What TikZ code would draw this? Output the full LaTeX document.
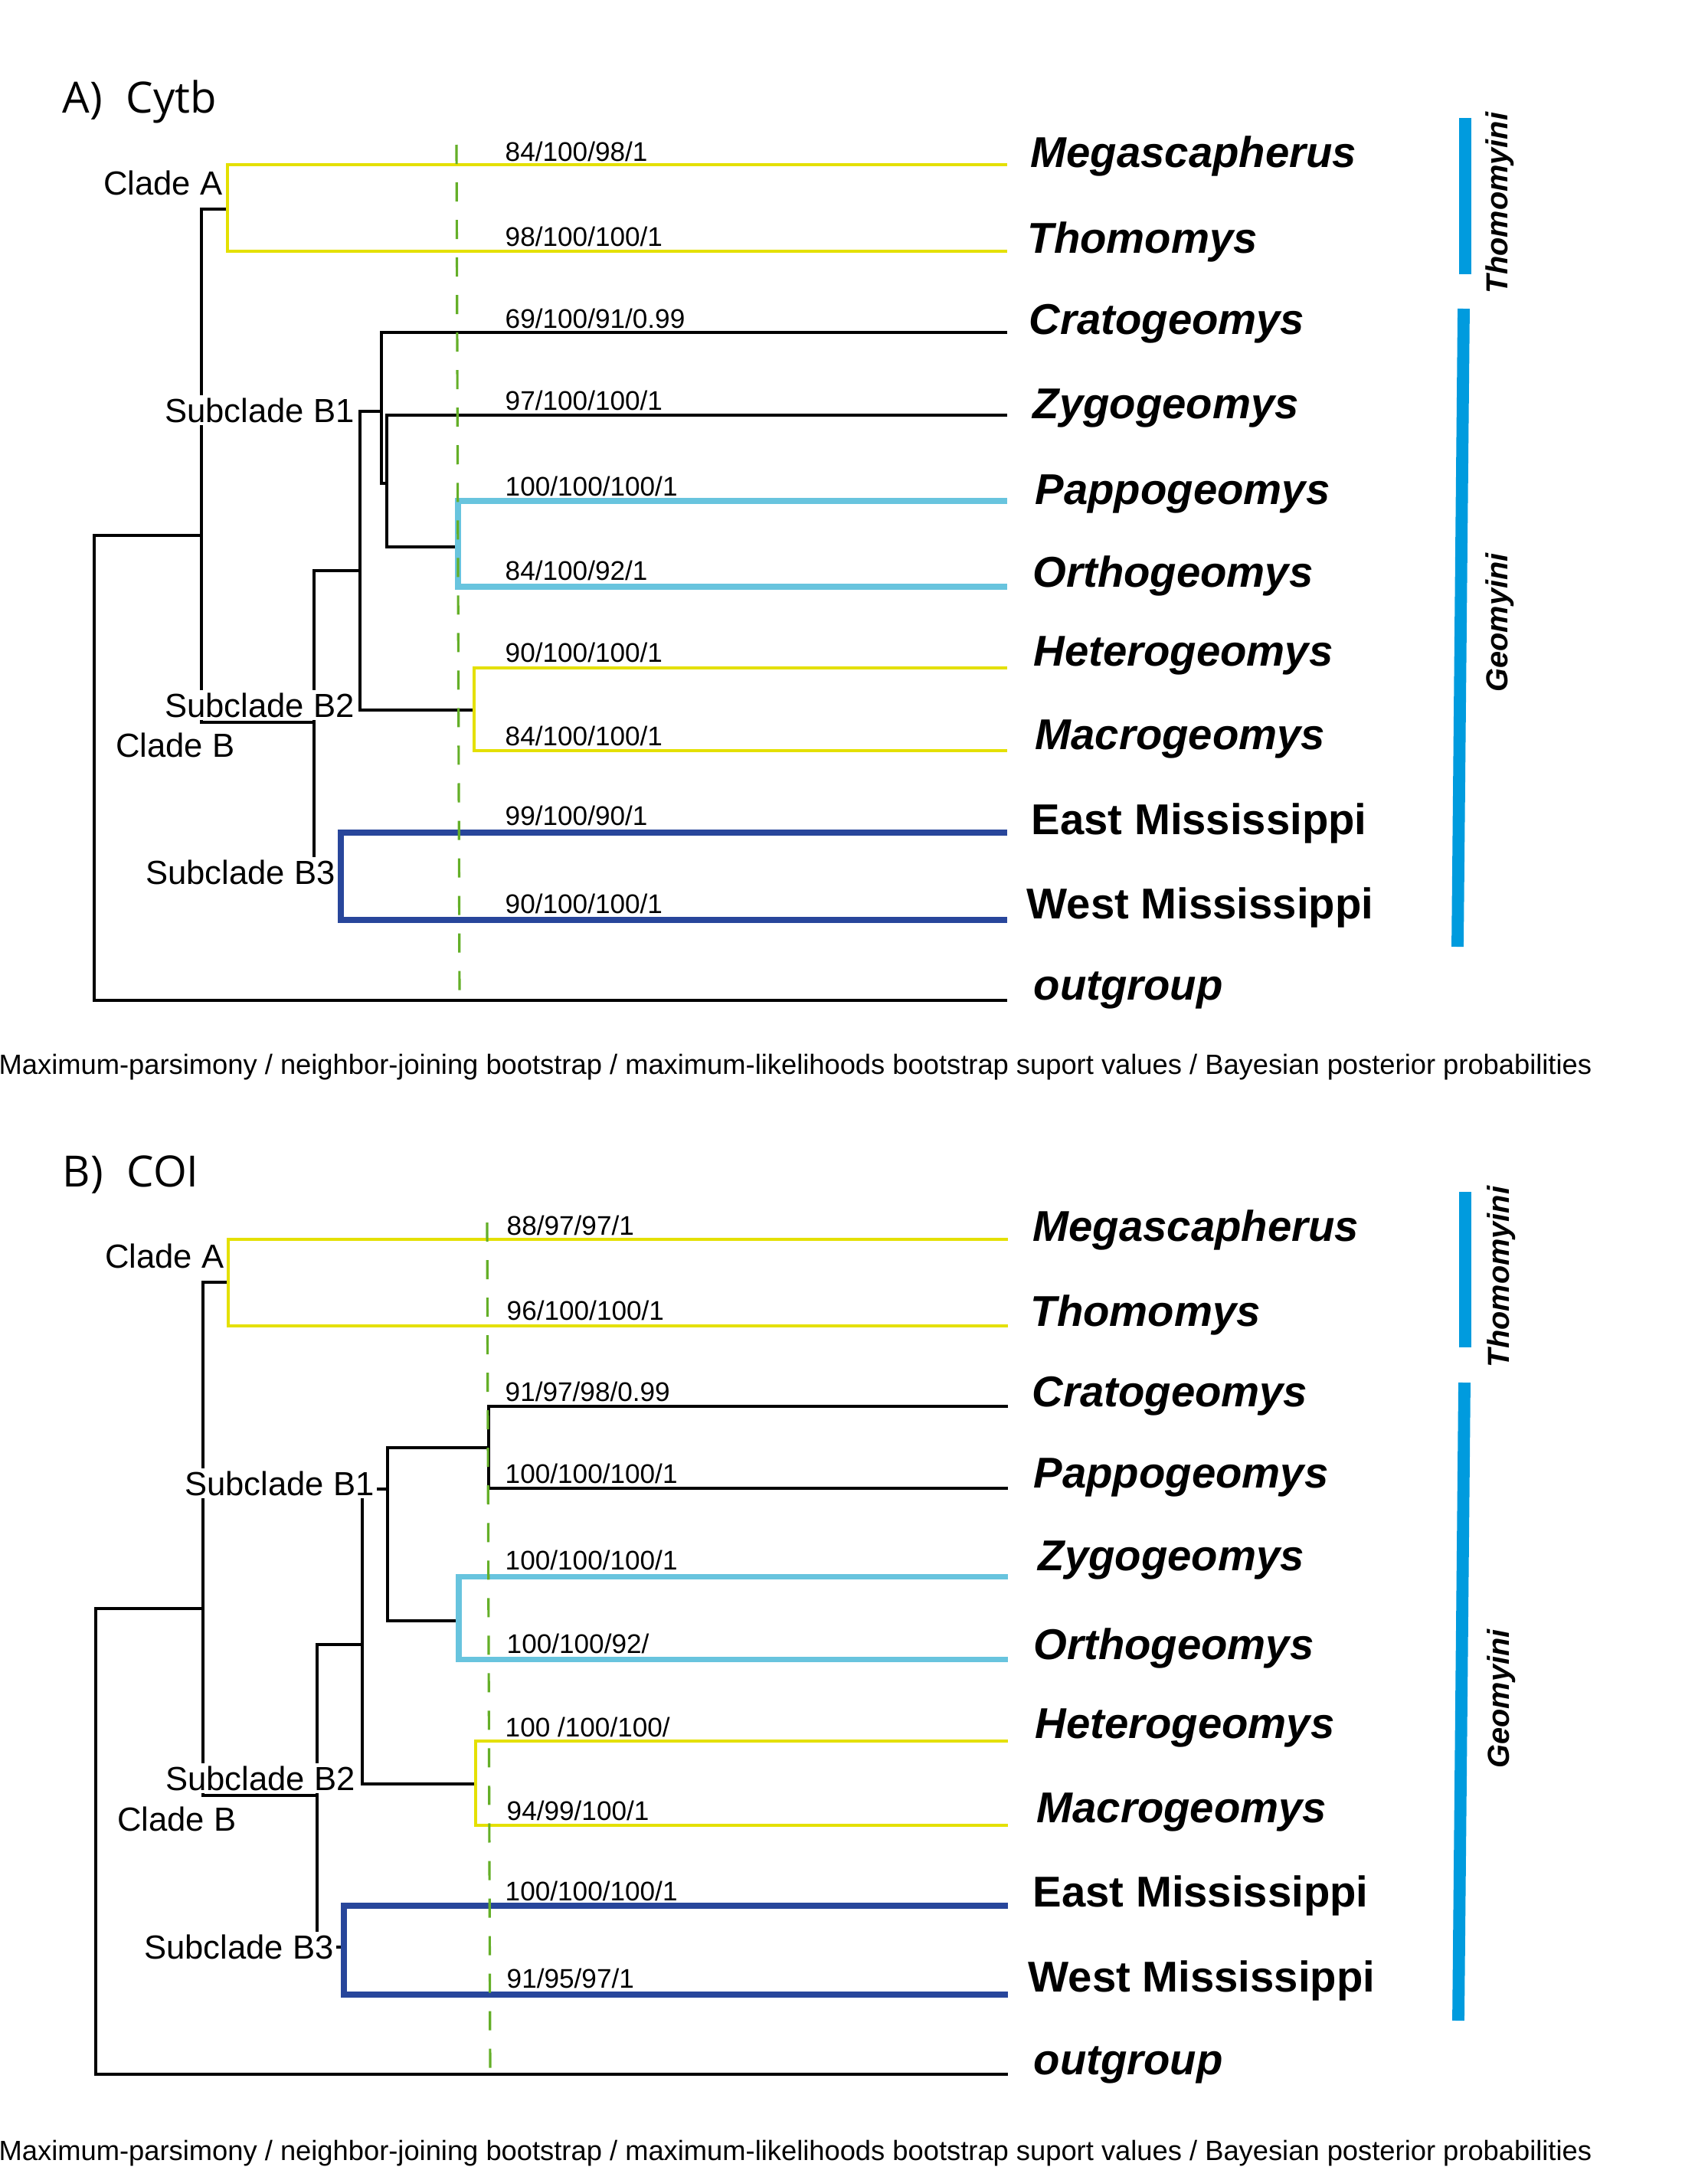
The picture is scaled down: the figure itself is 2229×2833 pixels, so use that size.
\documentclass[tikz,border=0pt]{standalone}
\usepackage{fontspec}
\setmainfont{Liberation Sans}
\newfontfamily\headfont{Open Sans}
\definecolor{cladeyellow}{RGB}{228,224,0}
\definecolor{cladecyan}{RGB}{104,196,222}
\definecolor{cladeblue}{RGB}{40,70,155}
\definecolor{tribeblue}{RGB}{0,155,222}
\definecolor{cutgreen}{RGB}{100,175,40}
\begin{document}
\begin{tikzpicture}[x=0.01cm,y=-0.01cm] % 1 единица = 1 пиксель, y вниз
\tikzstyle{mybranch} = [line width=1.1pt, draw=black] % black branch
\tikzstyle{myyellow} = [line width=1.1pt, draw=cladeyellow]
\tikzstyle{mycyan} = [line width=2pt, draw=cladecyan]
\tikzstyle{myblue} = [line width=2.4pt, draw=cladeblue]
\tikzstyle{mycut} = [line width=0.9pt, draw=cutgreen, dash pattern=on 0.25cm off 0.24cm] % пунктир
\tikzstyle{mybar} = [line width=4.5pt, draw=tribeblue] % tribe bar
\tikzstyle{mytaxon} = [anchor=base west, inner sep=0pt, font=\fontsize{16}{19}\selectfont\bfseries\itshape]
\tikzstyle{myplace} = [anchor=base west, inner sep=0pt, font=\fontsize{16}{19}\selectfont\bfseries]
\tikzstyle{mysupport} = [anchor=base west, inner sep=0pt, font=\fontsize{10}{12}\selectfont]
\tikzstyle{myclade} = [anchor=base west, fill=white, inner sep=1pt, font=\fontsize{12.4}{15}\selectfont]
\tikzstyle{mytribe} = [rotate=90, anchor=base, inner sep=0pt, font=\fontsize{11.3}{13}\selectfont\bfseries\itshape]
\tikzstyle{myhead} = [anchor=base west, inner sep=0pt, font=\headfont\fontsize{16}{19}\selectfont]
\tikzstyle{mynote} = [anchor=base west, inner sep=0pt, font=\fontsize{10.33}{12}\selectfont]
\useasboundingbox (0,0) rectangle (2229,2833);

% ===== A) Cytb =====
\node[myhead] (ahead) at (81,147) {A)\hspace{0.55em}Cytb};
\coordinate (aroot) at (123,699); % корень
\coordinate (aab) at (263,699);
\coordinate (aa) at (297,273);
\coordinate (ab) at (410,943);
\coordinate (ab12) at (470,745);
\coordinate (ab1) at (498,537);
\coordinate (azpo) at (505,631);
\coordinate (apo) at (598,714);
\coordinate (ahm) at (619,927);
\coordinate (ab3) at (445,1141);
\coordinate (amega) at (1315,215); % листья
\coordinate (athom) at (1315,328);
\coordinate (acrato) at (1315,434);
\coordinate (azygo) at (1315,542);
\coordinate (apappo) at (1315,654);
\coordinate (aortho) at (1315,766);
\coordinate (ahetero) at (1315,872);
\coordinate (amacro) at (1315,980);
\coordinate (aeast) at (1315,1087);
\coordinate (awest) at (1315,1201);
\coordinate (aout) at (1315,1306);
\draw[mybranch] (aab) -| (aroot) |- (aout);
\draw[mybranch] (aa) -| (aab) |- (ab);
\draw[mybranch] (ab12) -| (ab) |- (ab3);
\draw[mybranch] (ab1) -| (ab12) |- (ahm);
\draw[mybranch] (acrato) -| (ab1) |- (azpo);
\draw[mybranch] (azygo) -| (azpo) |- (apo);
\draw[myyellow] (amega) -| (aa) |- (athom);
\draw[mycyan] (apappo) -| (apo) |- (aortho);
\draw[myyellow] (ahetero) -| (ahm) |- (amacro);
\draw[myblue] (aeast) -| (ab3) |- (awest);
\coordinate (acuttop) at (596,189);
\coordinate (acutbot) at (600,1303);
\draw[mycut] (acuttop) -- (acutbot);
\node[mysupport] (asmega) at (659,210) {84/100/98/1};
\node[mysupport] (asthom) at (659,321) {98/100/100/1};
\node[mysupport] (ascrato) at (659,428) {69/100/91/0.99};
\node[mysupport] (aszygo) at (659,535) {97/100/100/1};
\node[mysupport] (aspappo) at (659,647) {100/100/100/1};
\node[mysupport] (asortho) at (659,757) {84/100/92/1};
\node[mysupport] (ashetero) at (659,864) {90/100/100/1};
\node[mysupport] (asmacro) at (659,973) {84/100/100/1};
\node[mysupport] (aseast) at (659,1077) {99/100/90/1};
\node[mysupport] (aswest) at (659,1192) {90/100/100/1};
\node[mytaxon] (atmega) at (1345,218) {Megascapherus};
\node[mytaxon] (atthom) at (1341,330) {Thomomys};
\node[mytaxon] (atcrato) at (1343,436) {Cratogeomys};
\node[mytaxon] (atzygo) at (1348,546) {Zygogeomys};
\node[mytaxon] (atpappo) at (1351,658) {Pappogeomys};
\node[mytaxon] (atortho) at (1348,766) {Orthogeomys};
\node[mytaxon] (athetero) at (1349,869) {Heterogeomys};
\node[mytaxon] (atmacro) at (1351,978) {Macrogeomys};
\node[myplace] (ateast) at (1346,1089) {East Mississippi};
\node[myplace] (atwest) at (1340,1199) {West Mississippi};
\node[mytaxon] (atout) at (1349,1305) {outgroup};
\node[myclade] (acladea) at (131,254) {Clade A};
\node[myclade] (asubb1) at (211,551) {Subclade B1};
\node[myclade] (asubb2) at (211,936) {Subclade B2};
\node[myclade] (acladeb) at (147,988) {Clade B};
\node[myclade] (asubb3) at (186,1154) {Subclade B3};
\coordinate (athomtop) at (1913,154); % трибы
\coordinate (athombot) at (1913,358);
\coordinate (ageotop) at (1911,403);
\coordinate (ageobot) at (1903,1236);
\draw[mybar] (athomtop) -- (athombot);
\draw[mybar] (ageotop) -- (ageobot);
\node[mytribe] (athomlab) at (1968,265) {Thomomyini};
\node[mytribe] (ageolab) at (1968,813) {Geomyini};
\node[mynote] (anote) at (-2,1402) {Maximum-parsimony / neighbor-joining bootstrap / maximum-likelihoods bootstrap suport values / Bayesian posterior probabilities};

% ===== B) COI =====
\node[myhead] (bhead) at (81,1549) {B)\hspace{0.55em}COI};
\coordinate (broot) at (125,2100); % корень
\coordinate (bab) at (265,2100);
\coordinate (ba) at (298,1674);
\coordinate (bb) at (414,2344);
\coordinate (bb12) at (473,2147);
\coordinate (bb1) at (506,1944);
\coordinate (bcp) at (638,1890);
\coordinate (bzo) at (599,2116);
\coordinate (bhm) at (621,2329);
\coordinate (bb3) at (449,2542);
\coordinate (bmega) at (1316,1618); % листья
\coordinate (bthom) at (1316,1731);
\coordinate (bcrato) at (1316,1836);
\coordinate (bpappo) at (1316,1943);
\coordinate (bzygo) at (1316,2058);
\coordinate (bortho) at (1316,2166);
\coordinate (bhetero) at (1316,2273);
\coordinate (bmacro) at (1316,2383);
\coordinate (beast) at (1316,2488);
\coordinate (bwest) at (1316,2604);
\coordinate (bout) at (1316,2708);
\draw[mybranch] (bab) -| (broot) |- (bout);
\draw[mybranch] (ba) -| (bab) |- (bb);
\draw[mybranch] (bb12) -| (bb) |- (bb3);
\draw[mybranch] (bb1) -| (bb12) |- (bhm);
\draw[mybranch] (bcp) -| (bb1) |- (bzo);
\draw[mybranch] (bcrato) -| (bcp) |- (bpappo);
\draw[myyellow] (bmega) -| (ba) |- (bthom);
\draw[mycyan] (bzygo) -| (bzo) |- (bortho);
\draw[myyellow] (bhetero) -| (bhm) |- (bmacro);
\draw[myblue] (beast) -| (bb3) |- (bwest);
\coordinate (bcuttop) at (636,1596);
\coordinate (bcutbot) at (640,2705);
\draw[mycut] (bcuttop) -- (bcutbot);
\node[mysupport] (bsmega) at (661,1612) {88/97/97/1};
\node[mysupport] (bsthom) at (661,1723) {96/100/100/1};
\node[mysupport] (bscrato) at (659,1829) {91/97/98/0.99};
\node[mysupport] (bspappo) at (659,1936) {100/100/100/1};
\node[mysupport] (bszygo) at (659,2049) {100/100/100/1};
\node[mysupport] (bsortho) at (661,2158) {100/100/92/};
\node[mysupport] (bshetero) at (659,2267) {100 /100/100/};
\node[mysupport] (bsmacro) at (661,2376) {94/99/100/1};
\node[mysupport] (bseast) at (659,2481) {100/100/100/1};
\node[mysupport] (bswest) at (661,2595) {91/95/97/1};
\node[mytaxon] (btmega) at (1348,1620) {Megascapherus};
\node[mytaxon] (btthom) at (1345,1731) {Thomomys};
\node[mytaxon] (btcrato) at (1347,1836) {Cratogeomys};
\node[mytaxon] (btpappo) at (1349,1942) {Pappogeomys};
\node[mytaxon] (btzygo) at (1355,2050) {Zygogeomys};
\node[mytaxon] (btortho) at (1349,2166) {Orthogeomys};
\node[mytaxon] (bthetero) at (1351,2269) {Heterogeomys};
\node[mytaxon] (btmacro) at (1353,2379) {Macrogeomys};
\node[myplace] (bteast) at (1348,2489) {East Mississippi};
\node[myplace] (btwest) at (1342,2600) {West Mississippi};
\node[mytaxon] (btout) at (1349,2708) {outgroup};
\node[myclade] (bcladea) at (133,1655) {Clade A};
\node[myclade] (bsubb1) at (237,1952) {Subclade B1};
\node[myclade] (bsubb2) at (212,2337) {Subclade B2};
\node[myclade] (bcladeb) at (149,2390) {Clade B};
\node[myclade] (bsubb3) at (184,2557) {Subclade B3};
\coordinate (bthomtop) at (1913,1556); % трибы
\coordinate (bthombot) at (1913,1759);
\coordinate (bgeotop) at (1912,1805);
\coordinate (bgeobot) at (1904,2638);
\draw[mybar] (bthomtop) -- (bthombot);
\draw[mybar] (bgeotop) -- (bgeobot);
\node[mytribe] (bthomlab) at (1970,1667) {Thomomyini};
\node[mytribe] (bgeolab) at (1970,2218) {Geomyini};
\node[mynote] (bnote) at (-2,2820) {Maximum-parsimony / neighbor-joining bootstrap / maximum-likelihoods bootstrap suport values / Bayesian posterior probabilities};
\end{tikzpicture}
\end{document}
